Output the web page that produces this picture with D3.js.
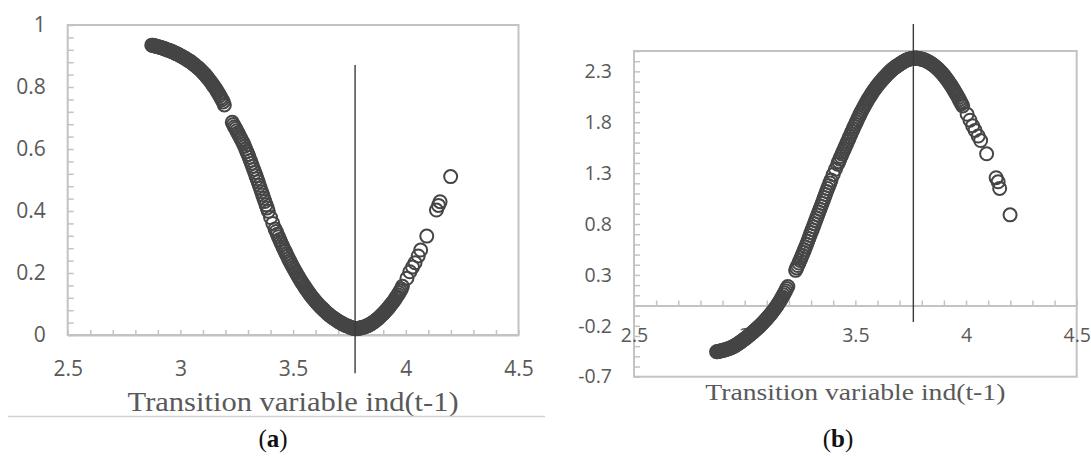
<!DOCTYPE html>
<html>
<head>
<meta charset="utf-8">
<script src="https://cdn.jsdelivr.net/npm/d3@7"></script>
<style>
  body { margin: 0; background: #fff; }
  svg { display: block; }
</style>
</head>
<body>
<script>
// transition variable ind(t-1), shared by both panels
var xVals = [
  2.873, 2.877, 2.88, 2.89, 2.90, 2.91, 2.92, 2.93, 2.94, 2.95,
  2.96, 2.97, 2.98, 2.99, 3.00, 3.01, 3.02, 3.03, 3.04, 3.05,
  3.06, 3.07, 3.08, 3.09, 3.10, 3.11, 3.12, 3.13, 3.14, 3.15,
  3.16, 3.17, 3.18, 3.19, 3.195, 3.23, 3.24, 3.25, 3.26, 3.27,
  3.28, 3.29, 3.30, 3.31, 3.32, 3.33, 3.34, 3.35, 3.36, 3.37,
  3.38, 3.39, 3.40, 3.41, 3.42, 3.43, 3.44, 3.45, 3.46, 3.47,
  3.48, 3.49, 3.50, 3.51, 3.52, 3.53, 3.54, 3.55, 3.56, 3.57,
  3.58, 3.59, 3.60, 3.61, 3.62, 3.63, 3.64, 3.65, 3.66, 3.67,
  3.68, 3.69, 3.70, 3.71, 3.72, 3.73, 3.74, 3.75, 3.76, 3.77,
  3.78, 3.79, 3.80, 3.81, 3.82, 3.83, 3.84, 3.85, 3.86, 3.87,
  3.88, 3.89, 3.90, 3.91, 3.92, 3.93, 3.94, 3.95, 3.96, 3.97,
  3.98, 3.985, 4.005, 4.018, 4.03, 4.041, 4.055, 4.066, 4.093, 4.136,
  4.145, 4.152, 4.199
];

// panel (a)
var valsA = [
  0.935, 0.935, 0.934, 0.932, 0.930, 0.928, 0.926, 0.923, 0.920, 0.918,
  0.915, 0.912, 0.908, 0.905, 0.901, 0.897, 0.893, 0.888, 0.884, 0.879,
  0.873, 0.867, 0.861, 0.854, 0.847, 0.839, 0.830, 0.821, 0.811, 0.801,
  0.790, 0.778, 0.765, 0.752, 0.742, 0.686, 0.672, 0.659, 0.645, 0.631,
  0.617, 0.600, 0.582, 0.563, 0.544, 0.524, 0.504, 0.483, 0.462, 0.441,
  0.420, 0.399, 0.379, 0.360, 0.342, 0.325, 0.308, 0.292, 0.276, 0.261,
  0.246, 0.232, 0.218, 0.205, 0.192, 0.180, 0.168, 0.157, 0.146, 0.136,
  0.126, 0.117, 0.108, 0.100, 0.092, 0.085, 0.078, 0.071, 0.065, 0.059,
  0.054, 0.049, 0.044, 0.040, 0.036, 0.032, 0.029, 0.026, 0.023, 0.021,
  0.020, 0.021, 0.023, 0.025, 0.027, 0.030, 0.034, 0.038, 0.043, 0.049,
  0.055, 0.062, 0.069, 0.077, 0.085, 0.094, 0.103, 0.113, 0.124, 0.136,
  0.148, 0.157, 0.183, 0.204, 0.219, 0.233, 0.255, 0.274, 0.319, 0.403,
  0.418, 0.430, 0.511
];

// panel (b)
var valsB = [
  -0.455, -0.454, -0.452, -0.447, -0.442, -0.436, -0.430, -0.422, -0.413, -0.403,
  -0.390, -0.376, -0.361, -0.345, -0.329, -0.312, -0.294, -0.276, -0.257, -0.238,
  -0.218, -0.198, -0.176, -0.153, -0.129, -0.104, -0.078, -0.050, -0.020, 0.012,
  0.046, 0.084, 0.124, 0.166, 0.186, 0.345, 0.392, 0.442, 0.494, 0.547,
  0.602, 0.659, 0.716, 0.773, 0.831, 0.889, 0.946, 1.003, 1.061, 1.119,
  1.176, 1.232, 1.286, 1.338, 1.388, 1.438, 1.487, 1.536, 1.585, 1.634,
  1.684, 1.733, 1.781, 1.828, 1.873, 1.916, 1.957, 1.996, 2.033, 2.068,
  2.101, 2.132, 2.161, 2.188, 2.213, 2.238, 2.262, 2.284, 2.305, 2.324,
  2.341, 2.356, 2.370, 2.385, 2.398, 2.409, 2.418, 2.424, 2.428, 2.430,
  2.429, 2.425, 2.420, 2.413, 2.404, 2.393, 2.380, 2.365, 2.348, 2.329,
  2.308, 2.285, 2.260, 2.232, 2.202, 2.170, 2.136, 2.100, 2.062, 2.022,
  1.982, 1.960, 1.878, 1.820, 1.765, 1.720, 1.665, 1.620, 1.490, 1.255,
  1.215, 1.150, 0.890
];

// the denser observations lying between the ones above
var xFill = [
  2.885, 2.895, 2.905, 2.915, 2.925, 2.935, 2.945, 2.955, 2.965, 2.975,
  2.985, 2.995, 3.005, 3.015, 3.025, 3.035, 3.045, 3.055, 3.065, 3.075,
  3.085, 3.095, 3.105, 3.115, 3.125, 3.135, 3.145, 3.155, 3.165, 3.175,
  3.185, 3.235, 3.245, 3.255, 3.265, 3.275, 3.285, 3.295, 3.305, 3.315,
  3.325, 3.335, 3.345, 3.355, 3.365, 3.375, 3.385, 3.425, 3.435, 3.445,
  3.455, 3.465, 3.475, 3.485, 3.495, 3.505, 3.515, 3.525, 3.535, 3.545,
  3.555, 3.565, 3.575, 3.585, 3.595, 3.605, 3.615, 3.625, 3.635, 3.645,
  3.655, 3.665, 3.675, 3.685, 3.695, 3.705, 3.715, 3.725, 3.735, 3.745,
  3.755, 3.765, 3.775, 3.785, 3.795, 3.805, 3.815, 3.825, 3.835, 3.845,
  3.855, 3.865, 3.875, 3.885, 3.895, 3.905, 3.915, 3.925, 3.935, 3.945,
  3.955, 3.965, 3.975
];

var fillA = [
  0.933, 0.931, 0.929, 0.927, 0.925, 0.922, 0.919, 0.917, 0.914, 0.910,
  0.907, 0.903, 0.899, 0.895, 0.891, 0.886, 0.882, 0.876, 0.870, 0.864,
  0.858, 0.851, 0.843, 0.835, 0.826, 0.816, 0.806, 0.796, 0.784, 0.772,
  0.759, 0.679, 0.666, 0.652, 0.638, 0.624, 0.609, 0.591, 0.573, 0.554,
  0.534, 0.514, 0.494, 0.473, 0.452, 0.431, 0.410, 0.334, 0.317, 0.300,
  0.284, 0.269, 0.254, 0.239, 0.225, 0.212, 0.199, 0.186, 0.174, 0.163,
  0.152, 0.141, 0.131, 0.122, 0.113, 0.104, 0.096, 0.089, 0.082, 0.075,
  0.068, 0.062, 0.057, 0.052, 0.047, 0.042, 0.038, 0.034, 0.031, 0.028,
  0.025, 0.022, 0.021, 0.021, 0.022, 0.024, 0.026, 0.029, 0.032, 0.036,
  0.041, 0.046, 0.052, 0.059, 0.066, 0.073, 0.081, 0.090, 0.099, 0.108,
  0.119, 0.130, 0.142
];

var fillB = [
  -0.450, -0.445, -0.439, -0.433, -0.426, -0.418, -0.408, -0.397, -0.383, -0.369,
  -0.353, -0.337, -0.321, -0.303, -0.285, -0.267, -0.248, -0.228, -0.208, -0.187,
  -0.165, -0.141, -0.117, -0.091, -0.064, -0.035, -0.004, 0.029, 0.065, 0.104,
  0.145, 0.369, 0.417, 0.468, 0.521, 0.575, 0.631, 0.688, 0.745, 0.802,
  0.860, 0.918, 0.975, 1.032, 1.090, 1.148, 1.204, 1.413, 1.463, 1.512,
  1.561, 1.610, 1.659, 1.709, 1.757, 1.805, 1.851, 1.895, 1.937, 1.977,
  2.015, 2.051, 2.085, 2.117, 2.147, 2.175, 2.201, 2.226, 2.250, 2.273,
  2.295, 2.315, 2.333, 2.349, 2.363, 2.378, 2.392, 2.404, 2.414, 2.421,
  2.426, 2.429, 2.430, 2.427, 2.423, 2.417, 2.409, 2.399, 2.387, 2.373,
  2.357, 2.339, 2.319, 2.297, 2.273, 2.246, 2.217, 2.186, 2.153, 2.118,
  2.081, 2.042, 2.002
];

var xTicks = [2.5, 3, 3.5, 4, 4.5];
var yTicksA = [0, 0.2, 0.4, 0.6, 0.8, 1];
var yTicksB = [-0.7, -0.2, 0.3, 0.8, 1.3, 1.8, 2.3];

// threshold line: x position, y from, y to (data units)
var thresholdA = [3.775, -0.123, 0.871];
var thresholdB = [3.762, -0.163, 2.765];

var axisTitle = "Transition variable ind(t-1)";

var svg = d3.select("body").append("svg")
  .attr("width", 1091)
  .attr("height", 457);

function drawPanel(p) {
  var x = d3.scaleLinear().domain([2.5, 4.5]).range([p.left, p.right]);
  var y = d3.scaleLinear().domain(p.yDomain).range([p.bottom, p.top]);
  var g = svg.append("g");

  // frame
  g.append("rect")
    .attr("x", p.left).attr("y", p.top)
    .attr("width", p.right - p.left).attr("height", p.bottom - p.top)
    .attr("fill", "none").attr("stroke", "#c3c3c3").attr("stroke-width", 2);

  // minor ticks on x axis (inside)
  var xMinor = d3.range(25, 46).map(d => d / 10);
  var gx = g.append("g")
    .attr("transform", `translate(0,${y(p.xAxisAt)})`)
    .call(d3.axisBottom(x).tickValues(xMinor).tickSizeInner(-5).tickSizeOuter(0).tickFormat(""));
  gx.select(".domain").attr("stroke", "#c3c3c3").attr("stroke-width", 2);
  gx.selectAll(".tick line").attr("stroke", "#c3c3c3").attr("stroke-width", 1.5);

  // minor ticks on y axis (inside)
  var gy = g.append("g")
    .attr("transform", `translate(${p.left},0)`)
    .call(d3.axisLeft(y).tickValues(p.yMinor).tickSizeInner(-6).tickSizeOuter(0).tickFormat(""));
  gy.select(".domain").remove();
  gy.selectAll(".tick line").attr("stroke", "#c3c3c3").attr("stroke-width", 1.5);

  // tick labels
  var lx = g.append("g")
    .attr("transform", `translate(0,${y(p.xAxisAt)})`)
    .call(d3.axisBottom(x).tickValues(xTicks).tickSize(0).tickPadding(p.xPad).tickFormat(d => String(d)));
  lx.select(".domain").remove();
  lx.selectAll("text").attr("font-family", "'Open Sans', sans-serif")
    .attr("font-size", p.tickFont).attr("fill", "#595959");

  var ly = g.append("g")
    .attr("transform", `translate(${p.left},0)`)
    .call(d3.axisLeft(y).tickValues(p.yTicks).tickSize(0).tickPadding(22).tickFormat(d => String(d)));
  ly.select(".domain").remove();
  ly.selectAll("text").attr("font-family", "'Open Sans', sans-serif")
    .attr("font-size", p.tickFont).attr("fill", "#595959");

  // points
  var pts = xVals.map((d, i) => [d, p.vals[i]])
    .concat(xFill.map((d, i) => [d, p.fill[i]]));
  g.append("g").selectAll("circle")
    .data(pts)
    .enter()
    .append("circle")
      .attr("cx", d => x(d[0]))
      .attr("cy", d => y(d[1]))
      .attr("r", 6.5)
      .attr("fill", "none")
      .attr("stroke", "#454545")
      .attr("stroke-width", 2);

  // threshold line
  g.append("line")
    .attr("x1", x(p.threshold[0])).attr("x2", x(p.threshold[0]))
    .attr("y1", y(p.threshold[1])).attr("y2", y(p.threshold[2]))
    .attr("stroke", "#3a3a3a").attr("stroke-width", 1.4);

  // axis title
  g.append("text")
    .attr("x", (p.left + p.right) / 2)
    .attr("y", p.titleY)
    .attr("text-anchor", "middle")
    .attr("font-family", "'Liberation Serif', serif")
    .attr("font-size", p.titleFont)
    .attr("fill", "#595959")
    .attr("textLength", p.titleLen)
    .attr("lengthAdjust", "spacingAndGlyphs")
    .text(axisTitle);

  // panel letter
  var lab = g.append("text")
    .attr("x", p.letterX)
    .attr("y", 447)
    .attr("text-anchor", "middle")
    .attr("font-family", "'Liberation Serif', serif")
    .attr("font-size", 25)
    .attr("fill", "#111");
  lab.append("tspan").text("(");
  lab.append("tspan").attr("font-weight", "bold").text(p.letter);
  lab.append("tspan").text(")");
}

drawPanel({
  left: 67.7, right: 518.5, top: 25, bottom: 335,
  yDomain: [0, 1], xAxisAt: 0,
  yTicks: yTicksA, yMinor: d3.range(0, 26).map(d => d * 0.04),
  vals: valsA, fill: fillA, threshold: thresholdA,
  xPad: 26, tickFont: 21,
  titleY: 411, titleFont: 27, titleLen: 331,
  letter: "a", letterX: 273
});

drawPanel({
  left: 634, right: 1076.7, top: 51, bottom: 376.7,
  yDomain: [-0.7, 2.5], xAxisAt: 0,
  yTicks: yTicksB, yMinor: d3.range(-7, 26).map(d => d / 10),
  vals: valsB, fill: fillB, threshold: thresholdB,
  xPad: 23, tickFont: 19.5,
  titleY: 400, titleFont: 24, titleLen: 300,
  letter: "b", letterX: 838
});

// rule under panel (a)
svg.append("line")
  .attr("x1", 8).attr("x2", 545)
  .attr("y1", 416.5).attr("y2", 416.5)
  .attr("stroke", "#d2d2d2").attr("stroke-width", 1.5);
</script>
</body>
</html>
